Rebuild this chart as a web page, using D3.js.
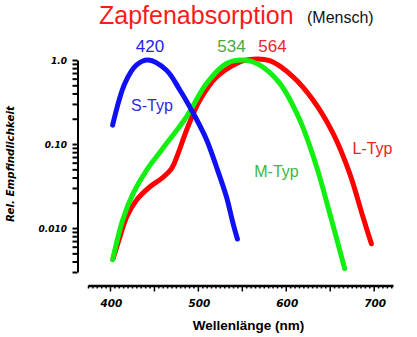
<!DOCTYPE html>
<html>
<head>
<meta charset="utf-8">
<script src="https://cdn.jsdelivr.net/npm/d3@7"></script>
<style>
  body { margin: 0; background: #fff; }
  svg { display: block; font-family: "Liberation Sans", Arial, sans-serif; }
  .heavy { font-family: "DejaVu Sans", sans-serif; font-weight: bold; font-style: italic; }
</style>
</head>
<body>
<div id="chart"></div>
<script>
// wavelengths (nm) and relative sensitivity for each cone type
const sWl  = [403, 417, 430, 443.5, 464, 479.5, 495, 510, 521, 532.5, 540, 545]
const sVal = [0.168, 0.53, 0.87, 1.0, 0.76, 0.44, 0.23, 0.112, 0.054, 0.0236, 0.0114, 0.0074]

const mWl  = [403, 415, 426.5, 441.7, 458.8, 487, 510, 532.6, 551.5, 570.5, 593, 616, 635, 650, 667]
const mVal = [0.0042, 0.013, 0.026, 0.049, 0.085, 0.211, 0.53, 0.91, 1.0, 0.87, 0.53, 0.193, 0.054, 0.015, 0.0033]

const lWl  = [403.5, 411.4, 419, 430.3, 445.5, 458.8, 470, 477.6, 487.2, 502.3, 521.3, 544, 555.3, 581.8, 608.3, 631, 653.8, 672.7, 687.8, 697.4]
const lVal = [0.0043, 0.0079, 0.0136, 0.0216, 0.031, 0.039, 0.051, 0.0775, 0.147, 0.334, 0.63, 0.91, 1.0, 0.98, 0.63, 0.334, 0.134, 0.0448, 0.0136, 0.0065]

const peakLabels = ['420', '534', '564']
const typeLabels = ['S-Typ', 'M-Typ', 'L-Typ']

const xTickLabels = [400, 500, 600, 700]
const yTickValues = [1, 0.1, 0.01]
const yTickLabels = ['1.0', '0.10', '0.010']

w = 417
h = 337

const svg = d3.select('#chart')
    .append('svg')
    .attr('width', w)
    .attr('height', h)

const xScale = d3.scaleLinear().domain([375, 722]).range([88, 393])
const yScale = d3.scaleLog().domain([0.003, 1]).range([272, 60])

// y axis: minor ticks at 1..9 per decade, labels only on decades
const yMinor = []
for (let e = -3; e <= 0; e++) {
    for (let m = 1; m <= 9; m++) {
        const v = m * Math.pow(10, e)
        if (v >= 0.003 && v <= 1.0001) yMinor.push(v)
    }
}
const yAxis = d3.axisLeft(yScale)
    .tickValues(yMinor)
    .tickSize(5)
    .tickSizeOuter(0)
    .tickFormat('')
svg.append('g')
    .attr('id', 'y-axis')
    .attr('transform', 'translate(77.5,0)')
    .call(yAxis)
    .call(g => g.selectAll('path, line').attr('stroke', '#000').attr('stroke-width', 2))

svg.append('g').selectAll('text')
    .data(yTickValues)
    .enter()
    .append('text')
    .attr('class', 'heavy')
    .attr('x', 67)
    .attr('y', d => yScale(d) + 3.5)
    .attr('text-anchor', 'end')
    .attr('font-size', 9)
    .text((d, i) => yTickLabels[i])

// x axis: small ticks every 5 nm, longer every 50 nm
const xMinor = d3.range(375, 722, 5)
const xAxis = d3.axisBottom(xScale)
    .tickValues(xMinor)
    .tickSize(3)
    .tickSizeOuter(0)
    .tickFormat('')
const gx = svg.append('g')
    .attr('id', 'x-axis')
    .attr('transform', 'translate(0,285.5)')
    .call(xAxis)
gx.selectAll('path, line').attr('stroke', '#000').attr('stroke-width', 1.5)
gx.select('path').attr('stroke-width', 2.5)
gx.selectAll('.tick line').attr('y2', d => d % 50 === 0 ? 6 : 3)

svg.append('g').selectAll('text')
    .data(xTickLabels)
    .enter()
    .append('text')
    .attr('class', 'heavy')
    .attr('x', d => xScale(d) + 1.5)
    .attr('y', 307)
    .attr('text-anchor', 'middle')
    .attr('font-size', 10.5)
    .text(d => d)

// curves
const line = d3.line()
    .x(d => xScale(d[0]))
    .y(d => yScale(d[1]))
    .curve(d3.curveCatmullRom)

const series = [
    { wl: lWl, val: lVal, color: '#ff0000' },
    { wl: mWl, val: mVal, color: '#11f011' },
    { wl: sWl, val: sVal, color: '#1010f5' }
]
svg.append('g').selectAll('path')
    .data(series)
    .enter()
    .append('path')
    .attr('d', s => line(s.wl.map((x, i) => [x, s.val[i]])))
    .attr('fill', 'none')
    .attr('stroke', s => s.color)
    .attr('stroke-width', 5)
    .attr('stroke-linecap', 'round')
    .attr('stroke-linejoin', 'round')

// peak wavelengths
const peakColors = ['#2222e8', '#44aa44', '#e52a2a']
svg.append('g').selectAll('text')
    .data(peakLabels)
    .enter()
    .append('text')
    .attr('x', (d, i) => [150, 231.5, 272.5][i])
    .attr('y', 52)
    .attr('text-anchor', 'middle')
    .attr('font-size', 17)
    .attr('fill', (d, i) => peakColors[i])
    .text(d => d)

// curve names
const typePos = [[152, 111], [276.5, 177], [372.5, 154]]
svg.append('g').selectAll('text')
    .data(typeLabels)
    .enter()
    .append('text')
    .attr('x', (d, i) => typePos[i][0])
    .attr('y', (d, i) => typePos[i][1])
    .attr('text-anchor', 'middle')
    .attr('font-size', 16)
    .attr('fill', (d, i) => ['#2a2ae0', '#3cb83c', '#ee2222'][i])
    .text(d => d)

// titles
svg.append('text')
    .attr('x', 99)
    .attr('y', 24)
    .attr('font-size', 25)
    .attr('fill', '#ff1a1a')
    .text('Zapfenabsorption')
svg.append('text')
    .attr('x', 307)
    .attr('y', 23)
    .attr('font-size', 16)
    .attr('fill', '#111')
    .text('(Mensch)')

svg.append('text')
    .attr('x', 248.5)
    .attr('y', 330)
    .attr('text-anchor', 'middle')
    .attr('font-size', 13.5)
    .attr('font-weight', 'bold')
    .text('Wellenlänge (nm)')

svg.append('text')
    .attr('class', 'heavy')
    .attr('transform', 'translate(14,164) rotate(-90)')
    .attr('text-anchor', 'middle')
    .attr('font-size', 10.3)
    .text('Rel. Empfindlichkeit')
</script>
</body>
</html>
